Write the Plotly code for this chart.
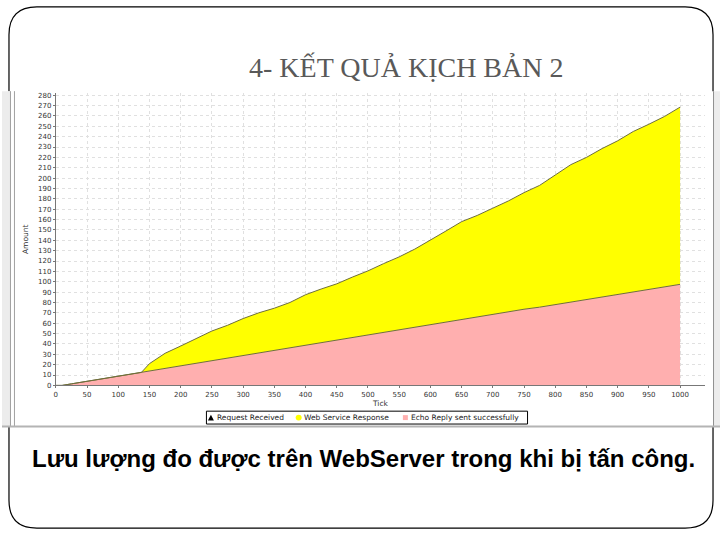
import plotly.graph_objects as go

# ---- data ----
ticks = [0, 10, 25, 50, 75, 100, 125, 137, 150, 175, 200, 225, 250, 275, 300, 325, 350,
         375, 400, 425, 450, 475, 500, 525, 550, 575, 600, 625, 650, 675, 700, 725, 750,
         775, 800, 825, 850, 875, 900, 925, 950, 975, 1000]

request_received = [0] * 43

echo_reply = [0, 0, 1.5, 4, 6.5, 9, 11.5, 12.5, 13.5, 16, 18.5, 21, 23.5, 26, 28.5, 31, 33.5,
              36, 38.5, 41, 43.5, 46, 48.5, 51, 53.5, 56, 58.5, 61, 63.5, 66, 68.5, 71, 73.5,
              75.5, 78, 80.5, 83, 85.5, 88, 90.5, 93, 95, 97.5]

web_service_response = [0, 0, 0, 0, 0, 0, 0, 0, 7.5, 15, 19.5, 24, 29, 32, 36, 39, 41,
                        44, 49, 52, 54.5, 58.5, 62, 66.5, 70.5, 75.5, 81.5, 88, 94.5, 98, 102.5, 107, 112.5,
                        117.5, 125, 132.5, 137, 143, 148, 154.5, 159, 164.5, 171]

series_names = ["Request Received", "Web Service Response", "Echo Reply sent successfully"]
series_colors = ["#000000", "#ffff00", "#ffafaf"]

x_tick_vals = list(range(0, 1001, 50))
y_tick_vals = list(range(0, 281, 10))

title_text = "4- KẾT QUẢ KỊCH BẢN 2"
caption_text = "Lưu lượng đo được trên WebServer trong khi bị tấn công."

W, H = 720, 540


def X(px):
    return px / W


def Y(py):
    return 1 - py / H


outline = "#6e6e3c"

fig = go.Figure()
fig.add_trace(go.Scatter(x=ticks, y=request_received, name=series_names[0],
                         stackgroup="one", mode="lines", line=dict(width=0, color=series_colors[0]),
                         fillcolor=series_colors[0], showlegend=False))
fig.add_trace(go.Scatter(x=ticks, y=echo_reply, name=series_names[2],
                         stackgroup="one", mode="lines", line=dict(width=1, color=outline),
                         fillcolor=series_colors[2], showlegend=False))
fig.add_trace(go.Scatter(x=ticks, y=web_service_response, name=series_names[1],
                         stackgroup="one", mode="lines", line=dict(width=1, color=outline),
                         fillcolor=series_colors[1], showlegend=False))

# slide frame (rounded rectangle)
L, R, T, B, r = 7, 713, 6, 532, 28
p = lambda px, py: f"{X(px):.5f},{Y(py):.5f}"
path = (f"M {p(L + r, T)} L {p(R - r, T)} Q {p(R, T)} {p(R, T + r)} "
        f"L {p(R, B - r)} Q {p(R, B)} {p(R - r, B)} L {p(L + r, B)} "
        f"Q {p(L, B)} {p(L, B - r)} L {p(L, T + r)} Q {p(L, T)} {p(L + r, T)} Z")

shapes = [
    dict(type="path", path=path, xref="paper", yref="paper", layer="below",
         line=dict(color="black", width=1.2)),
    # chart screenshot area covering the frame
    dict(type="rect", xref="paper", yref="paper", x0=X(0), x1=X(720), y0=Y(430), y1=Y(91),
         fillcolor="white", line=dict(width=0), layer="below"),
    dict(type="rect", xref="paper", yref="paper", x0=X(0), x1=X(8), y0=Y(430), y1=Y(91),
         fillcolor="#ececec", line=dict(width=0), layer="below"),
    dict(type="line", xref="paper", yref="paper", x0=X(8.5), x1=X(8.5), y0=Y(430), y1=Y(91),
         line=dict(color="#a0a0a0", width=1), layer="below"),
    dict(type="line", xref="paper", yref="paper", x0=X(12.5), x1=X(12.5), y0=Y(430), y1=Y(91),
         line=dict(color="#a0a0a0", width=1), layer="below"),
    dict(type="rect", xref="paper", yref="paper", x0=X(714), x1=X(720), y0=Y(430), y1=Y(91),
         fillcolor="#ececec", line=dict(width=0), layer="below"),
    dict(type="line", xref="paper", yref="paper", x0=X(713.5), x1=X(713.5), y0=Y(430), y1=Y(91),
         line=dict(color="#909090", width=1), layer="below"),
    dict(type="line", xref="paper", yref="paper", x0=X(0), x1=X(720), y0=Y(429.5), y1=Y(429.5),
         line=dict(color="#b4b4b4", width=2), layer="below"),
    # legend box
    dict(type="rect", xref="paper", yref="paper", x0=X(205), x1=X(527), y0=Y(427), y1=Y(414),
         fillcolor="white", line=dict(color="black", width=1)),
    # legend symbols
    dict(type="path", xref="paper", yref="paper",
         path=f"M {p(206.5, 423.5)} L {p(212.5, 423.5)} L {p(209.5, 417.5)} Z",
         fillcolor=series_colors[0], line=dict(width=0)),
    dict(type="circle", xref="paper", yref="paper", x0=X(294.5), x1=X(300.5), y0=Y(423.5), y1=Y(417.5),
         fillcolor=series_colors[1], line=dict(width=0)),
    dict(type="rect", xref="paper", yref="paper", x0=X(402), x1=X(407), y0=Y(423), y1=Y(418),
         fillcolor=series_colors[2], line=dict(width=0)),
]

legend_font = dict(family="DejaVu Sans", size=7.5, color="#222222")
annotations = [
    dict(text=title_text, xref="paper", yref="paper", x=X(405), y=Y(67), showarrow=False,
         font=dict(family="Liberation Serif", size=28, color="#595959"),
         xanchor="center", yanchor="middle"),
    dict(text="<b>" + caption_text + "</b>", xref="paper", yref="paper", x=X(363), y=Y(462),
         showarrow=False, font=dict(family="Liberation Sans", size=24, color="black"),
         xanchor="center", yanchor="middle"),
    dict(text=series_names[0], xref="paper", yref="paper", x=X(214), y=Y(420.5), showarrow=False,
         font=legend_font, xanchor="left", yanchor="middle"),
    dict(text=series_names[1], xref="paper", yref="paper", x=X(301), y=Y(420.5), showarrow=False,
         font=legend_font, xanchor="left", yanchor="middle"),
    dict(text=series_names[2], xref="paper", yref="paper", x=X(408), y=Y(420.5), showarrow=False,
         font=legend_font, xanchor="left", yanchor="middle"),
]

tickfont = dict(family="DejaVu Sans", size=7, color="#333333")
axis_common = dict(showgrid=True, gridcolor="#e0e0e0", griddash="dot", gridwidth=1,
                   zeroline=False, showline=True, linecolor="#777777", linewidth=1,
                   ticks="outside", ticklen=2, tickcolor="#777777", tickfont=tickfont)

fig.update_layout(
    width=W, height=H,
    margin=dict(l=0, r=0, t=0, b=0),
    paper_bgcolor="white", plot_bgcolor="rgba(0,0,0,0)",
    shapes=shapes, annotations=annotations,
    showlegend=False,
    xaxis=dict(domain=[X(54), X(705)], range=[0, 1040], tickvals=x_tick_vals,
               ticktext=[str(v) for v in x_tick_vals],
               title=dict(text="Tick", font=dict(family="DejaVu Sans", size=7.5, color="#333333"),
                          standoff=2), **axis_common),
    yaxis=dict(domain=[Y(388), Y(93)], range=[0, 282], tickvals=y_tick_vals,
               ticktext=[str(v) for v in y_tick_vals],
               title=dict(text="Amount", font=dict(family="DejaVu Sans", size=7.5, color="#333333"),
                          standoff=8), **axis_common),
)

fig.write_html("out.html", config={"displayModeBar": False})

# remove the browser's default page margin so the figure sits at the window origin
with open("out.html", encoding="utf-8") as f:
    html = f.read()
html = html.replace("<head>", "<head><style>html,body{margin:0;padding:0;overflow:hidden;}</style>", 1)
with open("out.html", "w", encoding="utf-8") as f:
    f.write(html)
